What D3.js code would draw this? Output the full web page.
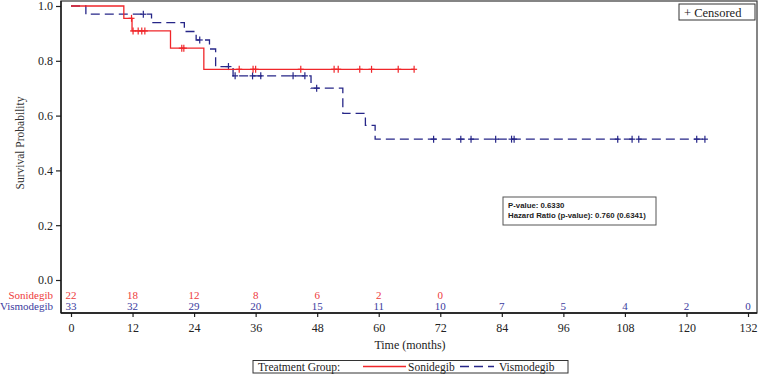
<!DOCTYPE html>
<html><head><meta charset="utf-8">
<script src="https://cdn.jsdelivr.net/npm/d3@7"></script>
<style>body{margin:0;background:#fff}svg{display:block}</style>
</head><body>
<svg id="c" width="761" height="374"></svg>
<script>
// ---- data ----
const xTicks = [0,12,24,36,48,60,72,84,96,108,120,132];
const yTicks = [0,0.2,0.4,0.6,0.8,1.0];
// step points [time, survival after step]
const sonidegibSteps = [[0,1],[10.3,0.955],[11.9,0.909],[19.4,0.846],[25.9,0.769]];
const sonidegibEnd = 66.9;
const sonidegibCensor = [11.8,12.1,13.1,13.8,14.4,21.6,22.0,32.8,35.5,36.0,44.8,51.3,52.1,56.3,58.6,63.8,66.9];
const vismodegibSteps = [[0,1],[2.9,0.970],[15.7,0.939],[22.1,0.907],[24.4,0.876],[27.0,0.843],[28.2,0.779],[31.6,0.745],[46.8,0.700],[53.0,0.608],[57.4,0.564],[59.3,0.514]];
const vismodegibEnd = 123.6;
const vismodegibCensor = [14.1,25.1,30.7,32.0,35.4,37.0,43.3,45.6,47.9,70.7,76.0,78.0,82.8,85.9,86.4,106.6,109.4,110.7,122.0,123.6];
const riskTimes = [0,12,24,36,48,60,72,84,96,108,120,132];
const sonidegibRisk = [22,18,12,8,6,2,0];
const vismodegibRisk = [33,32,29,20,15,11,10,7,5,4,2,0];
const groups = ["Sonidegib","Vismodegib"];
const pText = ["P-value: 0.6330","Hazard Ratio (p-value): 0.760 (0.6341)"];

const RED = "#f0262a", BLUE = "#262688", REDT = "#ee3a3c", BLUET = "#3b3b9e";
const serif = "'Liberation Serif','Times New Roman',serif";

const svg = d3.select("#c");
const x = d3.scaleLinear().domain([0,132]).range([71,748]);
const y = d3.scaleLinear().domain([0,1]).range([280,6]);
const AX = 313;

// frame
svg.append("rect").attr("x",61).attr("y",1).attr("width",696).attr("height",AX-1)
  .attr("fill","none").attr("stroke","#444").attr("stroke-width",1.3);

// axes
const ya = svg.append("g").attr("transform","translate(61,0)")
  .call(d3.axisLeft(y).tickValues(yTicks).tickFormat(d3.format(".1f")).tickSize(5).tickPadding(3));
const xa = svg.append("g").attr("transform",`translate(0,${AX})`)
  .call(d3.axisBottom(x).tickValues(xTicks).tickSize(4).tickPadding(6.5));
[ya,xa].forEach(g=>{
  g.select(".domain").remove();
  g.selectAll("line").attr("stroke","#222").attr("stroke-width",1.2);
  g.selectAll("text").attr("font-family",serif).attr("font-size",12).attr("fill","#222");
});
svg.append("line").attr("x1",61).attr("x2",61).attr("y1",1).attr("y2",AX).attr("stroke","#111").attr("stroke-width",1.3);
svg.append("line").attr("x1",61).attr("x2",757).attr("y1",AX).attr("y2",AX).attr("stroke","#111").attr("stroke-width",1.3);

svg.append("text").attr("x",410).attr("y",349).attr("text-anchor","middle")
  .attr("font-family",serif).attr("font-size",12).attr("fill","#222").text("Time (months)");
svg.append("text").attr("transform","translate(24,143) rotate(-90)").attr("text-anchor","middle")
  .attr("font-family",serif).attr("font-size",11.5).attr("fill","#333").text("Survival Probability");

// curves
function surv(steps,t){let s=1;for(const p of steps){if(p[0]<=t)s=p[1];}return s;}
const line = d3.line().x(d=>x(d[0])).y(d=>y(d[1])).curve(d3.curveStepAfter);
function drawCurve(steps,end,censor,color,dash){
  const pts = steps.concat([[end,steps[steps.length-1][1]]]);
  svg.append("path").datum(pts).attr("d",line).attr("fill","none")
    .attr("stroke",color).attr("stroke-width",1.3).attr("stroke-dasharray",dash);
  const g = svg.append("g");
  censor.forEach(t=>{
    const cx=x(t), cy=y(surv(steps,t));
    g.append("line").attr("x1",cx).attr("x2",cx).attr("y1",cy-3.5).attr("y2",cy+3.5).attr("stroke",color).attr("stroke-width",1.2);
    g.append("line").attr("x1",cx-3).attr("x2",cx+3).attr("y1",cy).attr("y2",cy).attr("stroke",color).attr("stroke-width",1.2);
  });
}
drawCurve(vismodegibSteps,vismodegibEnd,vismodegibCensor,BLUE,"9,5");
drawCurve(sonidegibSteps,sonidegibEnd,sonidegibCensor,RED,null);

// at risk
[[sonidegibRisk,REDT,299],[vismodegibRisk,BLUET,310]].forEach(([arr,c,yy],i)=>{
  svg.append("text").attr("x",53).attr("y",yy).attr("text-anchor","end")
    .attr("font-family",serif).attr("font-size",11).attr("fill",c).text(groups[i]);
  arr.forEach((v,j)=>svg.append("text").attr("x",x(riskTimes[j])).attr("y",yy).attr("text-anchor","middle")
    .attr("font-family",serif).attr("font-size",11).attr("fill",c).text(v));
});

// censored legend
svg.append("rect").attr("x",679).attr("y",4).attr("width",76).attr("height",16).attr("fill","#fff").attr("stroke","#333").attr("stroke-width",1);
svg.append("text").attr("x",684).attr("y",16.5).attr("font-family",serif).attr("font-size",12.5).attr("fill","#222").text("+  Censored");

// p-value box
svg.append("rect").attr("x",503).attr("y",197).attr("width",153).attr("height",28).attr("fill","#fff").attr("stroke","#555").attr("stroke-width",1);
pText.forEach((t,i)=>svg.append("text").attr("x",508).attr("y",208+i*9.5)
  .attr("font-family","'Liberation Sans',Arial,sans-serif").attr("font-weight","bold").attr("font-size",7.8).attr("fill","#222").text(t));

// bottom legend
const lg = svg.append("g");
lg.append("rect").attr("x",253).attr("y",360.5).attr("width",315).attr("height",12.5).attr("fill","#fff").attr("stroke","#333").attr("stroke-width",1);
lg.append("text").attr("x",258).attr("y",371).attr("font-family",serif).attr("font-size",11.5).attr("fill","#222").text("Treatment Group:");
lg.append("line").attr("x1",363).attr("x2",406).attr("y1",366.5).attr("y2",366.5).attr("stroke",RED).attr("stroke-width",1.3);
lg.append("text").attr("x",408).attr("y",371).attr("font-family",serif).attr("font-size",11.5).attr("fill","#222").text(groups[0]);
lg.append("line").attr("x1",460).attr("x2",494).attr("y1",366.5).attr("y2",366.5).attr("stroke",BLUE).attr("stroke-width",1.3).attr("stroke-dasharray","9,5");
lg.append("text").attr("x",499).attr("y",371).attr("font-family",serif).attr("font-size",11.5).attr("fill","#222").text(groups[1]);
</script>
</body></html>
